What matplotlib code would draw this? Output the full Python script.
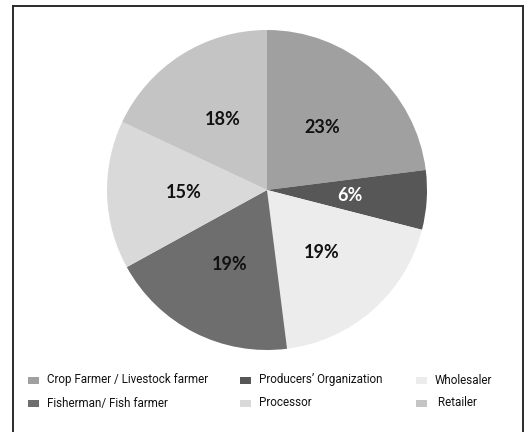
import matplotlib
matplotlib.use("Agg")
import matplotlib.pyplot as plt
from matplotlib.lines import Line2D
from matplotlib.patches import Rectangle

categories = ["Crop Farmer / Livestock farmer", "Producers\u2019 Organization", "Wholesaler",
              "Fisherman/ Fish farmer", "Processor", " Retailer"]
shares = [23, 6, 19, 19, 15, 18]
colors = ["#a0a0a0", "#575757", "#ececec", "#6e6e6e", "#d9d9d9", "#c4c4c4"]
label_colors = ["#111111", "#ffffff", "#111111", "#111111", "#111111", "#111111"]

W, H = 526, 432
fig = plt.figure(figsize=(W / 100, H / 100), dpi=100)
fig.patch.set_facecolor("white")

# pie centred at (267, 190) px with radius 160 px
cx, cy, r = 267, 190, 160
ax = fig.add_axes([(cx - r) / W, 1 - (cy + r) / H, 2 * r / W, 2 * r / H])
wedges, texts, autotexts = ax.pie(
    shares, colors=colors, startangle=90, counterclock=False,
    autopct="%d%%", pctdistance=0.52,
    wedgeprops=dict(linewidth=0),
    textprops=dict(fontsize=13, fontweight="bold", family="Lato"))
for t, c in zip(autotexts, label_colors):
    t.set_color(c)
ax.set_aspect("auto")
ax.set_xlim(-1, 1)
ax.set_ylim(-1, 1)
ax.axis("off")

# outer frame (open at the bottom edge of the image)
frame_kw = dict(transform=None, color="#2a2a2a", linewidth=1.4)
fx0, fx1, fy0 = 12.5, 522.5, 5.5
fig.add_artist(Line2D([fx0, fx0], [-5, H - fy0], **frame_kw))
fig.add_artist(Line2D([fx1, fx1], [-5, H - fy0], **frame_kw))
fig.add_artist(Line2D([fx0, fx1], [H - fy0, H - fy0], **frame_kw))

# legend: two rows, three columns
col_x = [28, 240, 416]
row_y = [380, 403]
for i, (lab, col) in enumerate(zip(categories, colors)):
    row, c = divmod(i, 3)
    x, y = col_x[c], row_y[row]
    fig.add_artist(Rectangle((x / W, 1 - (y + 3.5) / H), 11 / W, 7 / H,
                             transform=fig.transFigure, facecolor=col, edgecolor="none"))
    fig.text((x + 19) / W, 1 - y / H, lab, fontsize=8.4, family="Roboto",
             va="center", ha="left", color="#111111")

fig.savefig("out.png", dpi=100)
